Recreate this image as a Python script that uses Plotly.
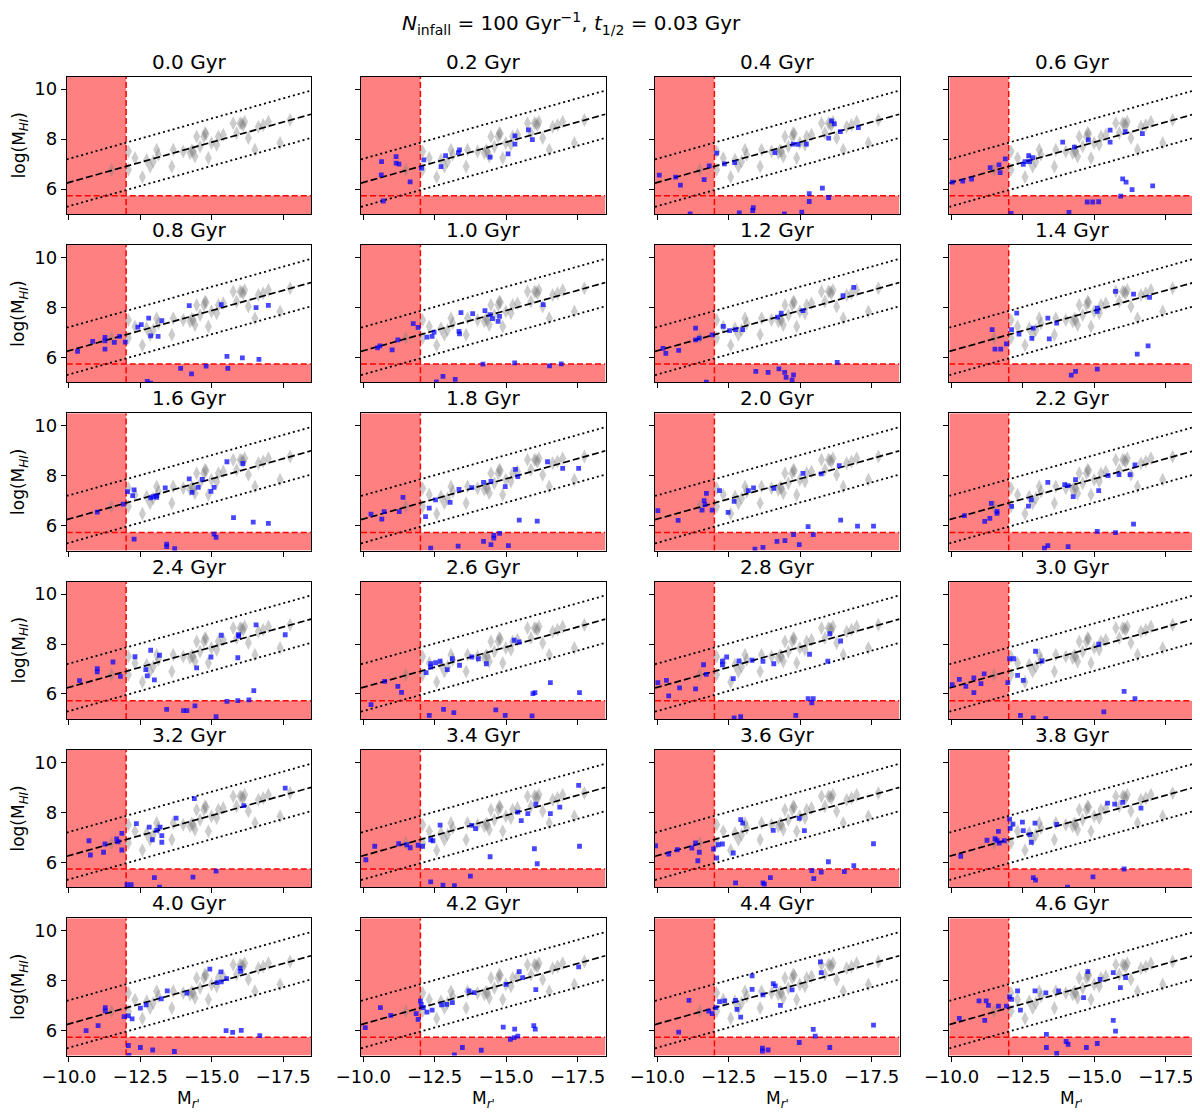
import plotly.graph_objects as go

# ---------------- data ----------------
panel_times = [0.0, 0.2, 0.4, 0.6, 0.8, 1.0, 1.2, 1.4, 1.6, 1.8, 2.0, 2.2,
               2.4, 2.6, 2.8, 3.0, 3.2, 3.4, 3.6, 3.8, 4.0, 4.2, 4.4, 4.6]

# reference sample (grey diamonds, same in every panel)
ref_m = [-11.49, -12.08, -12.08, -12.31, -12.57, -12.72, -12.84, -12.95, -13.07, -13.13,
         -13.60, -13.65, -14.00, -14.24, -14.35, -14.41, -14.47, -14.59, -14.76, -14.80,
         -14.88, -14.99, -15.17, -15.23, -15.40, -15.75, -15.87, -15.99, -16.10, -16.15,
         -16.28, -16.51, -16.63, -16.80, -16.98, -17.39, -17.74, -14.72, -16.05, -14.30]
ref_h = [6.77, 7.50, 6.77, 7.24, 6.48, 7.17, 6.90, 7.10, 7.57, 7.37,
         6.90, 7.57, 7.50, 7.44, 7.50, 7.30, 8.10, 7.70, 8.24, 8.20,
         7.24, 7.84, 7.77, 8.10, 8.17, 8.64, 8.24, 8.64, 8.57, 8.70,
         8.04, 7.57, 8.50, 8.57, 8.70, 7.84, 8.77, 8.10, 8.62, 7.55]

# scaling relation log(M_HI) = fit_a + fit_b * M_r', with +/- scatter
fit_a = 3.04
fit_b = -0.3224
fit_scatter = 0.95

# cuts
mag_cut = -12.0
hi_cut = 5.73

# simulated galaxies (blue squares) per snapshot
m_0_0, h_0_0 = [], []
m_0_2 = [-10.64, -10.63, -11.15, -11.15, -11.25, -11.64, -10.70, -12.04, -12.12, -12.72,
         -12.88, -13.33, -13.37, -14.44, -15.07, -15.31, -15.31, -15.78, -15.92]
h_0_2 = [7.10, 6.57, 7.30, 7.04, 7.00, 6.29, 5.52, 6.84, 7.17, 6.90,
         7.34, 7.46, 7.57, 7.28, 7.41, 8.13, 7.80, 8.37, 7.98]
m_0_4 = [-10.07, -10.64, -10.81, -11.64, -11.82, -12.08, -12.35, -12.71, -14.12, -14.76,
         -14.93, -15.22, -16.00, -16.10, -16.20, -16.41, -17.04, -15.78, -15.32, -16.00,
         -15.32, -13.36, -13.34, -12.87, -11.15, -14.45, -15.06]
h_0_4 = [6.56, 6.48, 6.16, 6.38, 6.93, 7.44, 7.01, 7.06, 7.46, 7.80,
         7.79, 7.80, 8.04, 8.73, 8.61, 8.30, 8.46, 6.04, 5.82, 5.66,
         5.50, 5.25, 5.14, 5.04, 5.00, 5.00, 5.07]
m_0_6 = [-10.03, -10.39, -10.70, -11.35, -11.66, -11.70, -11.88, -12.08, -12.51, -12.57,
         -12.70, -12.73, -12.84, -13.89, -14.30, -14.79, -15.55, -15.55, -16.08, -16.68,
         -15.99, -16.11, -16.32, -17.04, -15.92, -14.75, -14.94, -15.15, -14.11]
h_0_6 = [6.28, 6.32, 6.40, 6.86, 6.97, 6.66, 7.21, 5.02, 6.99, 7.10,
         7.34, 7.10, 7.26, 7.88, 7.68, 7.97, 8.36, 7.88, 8.30, 8.22,
         6.41, 6.28, 5.98, 6.13, 5.72, 5.48, 5.48, 5.49, 5.06]
m_0_8 = [-10.30, -10.83, -11.26, -11.26, -11.26, -11.59, -11.77, -11.97, -12.41, -12.53,
         -12.79, -12.86, -13.12, -13.25, -14.21, -15.33, -16.55, -16.98, -15.53, -16.07,
         -16.65, -13.91, -14.29, -14.80, -15.56, -12.74, -12.86]
h_0_8 = [6.24, 6.64, 6.80, 6.66, 6.33, 6.60, 6.84, 6.61, 7.21, 7.31,
         7.57, 6.86, 6.84, 7.47, 8.07, 8.11, 7.99, 8.08, 6.04, 5.98,
         5.92, 5.56, 5.34, 5.65, 5.56, 5.04, 4.97]
m_1_0 = [-10.50, -10.58, -11.01, -11.21, -11.75, -11.92, -12.23, -12.41, -12.48, -13.35,
         -13.37, -13.42, -13.83, -14.26, -14.44, -14.52, -14.72, -14.77, -16.30, -14.19,
         -15.30, -16.52, -16.93, -12.79, -13.22, -12.56]
h_1_0 = [6.38, 6.46, 6.30, 6.70, 7.35, 7.20, 6.81, 6.84, 7.01, 7.04,
         6.94, 7.79, 7.75, 7.87, 7.71, 7.55, 7.44, 7.64, 8.11, 5.73,
         5.78, 5.66, 5.74, 5.24, 5.12, 5.02]
m_1_2 = [-10.20, -10.30, -10.75, -11.34, -11.34, -11.47, -11.92, -11.72, -12.31, -12.53,
         -12.74, -12.99, -14.21, -14.34, -15.10, -16.50, -16.88, -16.30, -13.45, -13.88,
         -14.26, -14.46, -14.51, -14.77, -14.72]
h_1_2 = [6.36, 6.16, 6.28, 7.17, 6.70, 6.77, 6.90, 5.01, 7.24, 7.07,
         7.11, 7.11, 7.61, 7.77, 7.87, 8.47, 8.80, 5.80, 5.44, 5.40,
         5.54, 5.40, 5.20, 5.30, 5.10]
m_1_4 = [-11.42, -11.52, -11.72, -11.92, -12.10, -12.28, -12.36, -12.86, -12.81, -13.37,
         -13.42, -13.68, -15.10, -15.10, -15.74, -16.37, -16.93, -16.50, -16.88, -15.10,
         -14.34, -14.19]
h_1_4 = [7.11, 6.33, 6.33, 6.54, 7.11, 7.77, 6.93, 7.17, 6.76, 7.57,
         6.74, 7.37, 7.97, 7.84, 8.64, 8.53, 8.40, 6.13, 6.46, 5.53,
         5.44, 5.29]
m_1_6 = [-10.99, -11.90, -12.05, -12.28, -12.23, -12.86, -12.94, -13.07, -13.07, -13.37,
         -14.21, -14.31, -14.52, -14.67, -14.97, -15.08, -15.53, -16.09, -15.76, -16.45,
         -16.98, -15.08, -15.15, -12.28, -13.42, -13.42, -13.70]
h_1_6 = [6.54, 6.86, 7.36, 7.43, 7.20, 7.11, 7.16, 7.13, 7.20, 7.51,
         7.87, 7.33, 7.53, 7.85, 7.37, 7.53, 8.56, 8.49, 6.32, 6.14,
         6.09, 5.66, 5.53, 5.46, 5.26, 5.16, 5.08]
m_1_8 = [-10.27, -10.65, -10.73, -11.26, -11.39, -12.18, -12.31, -12.53, -13.04, -13.35,
         -13.80, -14.21, -14.47, -14.97, -15.33, -15.41, -16.45, -16.98, -17.54, -15.46,
         -16.09, -14.57, -14.57, -14.77, -14.47, -15.08, -13.32, -12.36, -14.21]
h_1_8 = [6.46, 6.26, 6.56, 6.56, 7.13, 6.36, 6.70, 7.03, 6.93, 7.45,
         7.52, 7.73, 7.77, 7.56, 8.25, 7.96, 8.56, 8.29, 8.29, 6.22,
         6.18, 5.61, 5.50, 5.69, 5.24, 5.20, 5.18, 5.10, 5.37]
m_2_0 = [-10.02, -10.73, -11.64, -11.72, -11.67, -11.57, -11.92, -12.18, -12.48, -12.69,
         -13.19, -13.37, -14.08, -15.10, -15.74, -16.37, -16.42, -17.01, -17.57, -15.28,
         -15.46, -14.77, -14.47, -14.19, -14.97, -13.70, -13.42]
h_2_0 = [6.60, 6.21, 7.00, 7.29, 6.84, 6.62, 6.62, 7.40, 6.53, 6.97,
         7.40, 7.51, 7.49, 8.09, 8.07, 8.40, 6.22, 5.98, 5.98, 5.96,
         5.64, 5.64, 5.40, 5.37, 5.24, 5.13, 5.06]
m_2_2 = [-10.45, -11.16, -11.34, -11.39, -11.59, -11.59, -12.10, -12.69, -12.79, -13.37,
         -13.96, -14.08, -14.26, -14.34, -15.15, -15.48, -15.86, -16.25, -16.42, -16.37,
         -15.10, -15.74, -13.37, -13.25, -14.08]
h_2_2 = [6.40, 6.17, 6.29, 6.89, 6.57, 6.49, 6.77, 6.78, 7.03, 7.73,
         7.64, 7.60, 7.16, 7.84, 7.40, 8.00, 8.04, 8.04, 8.43, 6.06,
         5.77, 5.72, 5.20, 5.10, 5.16]
m_2_4 = [-10.37, -10.99, -10.99, -11.54, -11.80, -12.31, -12.69, -12.74, -12.86, -12.99,
         -13.17, -14.47, -14.97, -15.33, -15.94, -15.94, -16.55, -15.91, -17.57, -16.47,
         -16.30, -15.91, -15.53, -14.41, -14.01, -14.13, -13.42, -15.15]
h_2_4 = [6.53, 7.01, 6.88, 7.28, 6.70, 7.49, 6.97, 6.72, 7.75, 6.56,
         7.55, 7.04, 7.48, 8.35, 8.32, 8.37, 8.77, 7.45, 8.37, 6.13,
         5.76, 5.73, 5.70, 5.52, 5.33, 5.33, 5.38, 5.09]
m_2_6 = [-10.27, -10.75, -11.21, -11.34, -12.20, -12.36, -12.36, -12.53, -12.69, -12.94,
         -13.12, -13.37, -13.80, -14.03, -14.31, -15.28, -15.46, -16.55, -15.94, -16.01,
         -17.57, -12.31, -12.81, -13.17, -14.64, -14.97, -15.91]
h_2_6 = [5.57, 6.50, 6.30, 6.06, 6.85, 7.21, 7.08, 7.25, 7.31, 6.97,
         7.41, 7.15, 7.48, 7.41, 7.21, 8.15, 8.08, 6.45, 6.01, 6.05,
         6.05, 5.14, 5.38, 5.25, 5.36, 5.14, 5.12]
m_2_8 = [-10.02, -10.32, -10.40, -10.78, -11.34, -11.62, -11.72, -12.28, -12.28, -12.43,
         -12.66, -12.86, -13.32, -13.70, -14.08, -15.33, -15.97, -16.04, -16.42, -15.28,
         -15.46, -15.41, -14.85, -12.92, -12.69]
h_2_8 = [6.45, 6.54, 5.92, 6.24, 6.20, 7.17, 6.78, 7.31, 7.17, 7.48,
         6.61, 7.32, 7.35, 7.31, 7.21, 7.59, 7.31, 8.41, 8.12, 5.81,
         5.81, 5.64, 5.14, 5.09, 5.04]
m_3_0 = [-10.02, -10.27, -10.50, -10.78, -10.78, -11.03, -11.14, -11.97, -12.03, -12.18,
         -12.31, -12.51, -12.94, -13.17, -15.15, -16.04, -16.42, -15.33, -12.41, -12.86,
         -13.30]
h_3_0 = [6.37, 6.58, 6.30, 6.05, 6.64, 6.41, 6.80, 6.45, 7.41, 7.41,
         6.74, 6.54, 7.71, 7.32, 7.99, 6.10, 5.81, 5.28, 5.14, 5.04,
         5.01]
m_3_2 = [-10.70, -10.75, -11.21, -11.26, -11.67, -11.72, -11.85, -11.85, -12.36, -12.81,
         -12.92, -13.07, -13.19, -13.25, -13.25, -13.75, -14.39, -16.12, -17.57, -15.15,
         -14.34, -12.99, -12.03, -12.18, -13.17]
h_3_2 = [6.86, 6.29, 6.40, 6.73, 6.93, 6.82, 7.16, 6.49, 7.55, 7.41,
         6.90, 7.28, 7.41, 7.07, 6.80, 7.77, 8.55, 8.27, 8.97, 5.64,
         5.40, 5.38, 5.10, 5.10, 5.00]
m_3_4 = [-10.09, -10.40, -11.24, -11.52, -11.64, -11.92, -12.08, -12.36, -12.44, -12.69,
         -13.80, -13.93, -14.44, -15.41, -15.53, -15.76, -16.04, -16.55, -16.88, -17.54,
         -17.57, -15.99, -16.09, -13.75, -12.36, -12.79, -13.19]
h_3_4 = [6.10, 6.64, 6.74, 6.70, 6.58, 6.68, 6.64, 6.90, 6.86, 7.49,
         7.48, 7.35, 6.22, 8.01, 7.67, 7.95, 8.33, 7.95, 8.21, 9.08,
         6.64, 6.54, 5.94, 5.44, 5.21, 5.08, 5.06]
m_3_6 = [-9.94, -10.40, -10.70, -11.21, -11.34, -11.47, -11.42, -11.97, -12.13, -12.28,
         -12.08, -12.66, -12.92, -12.99, -14.06, -14.97, -15.15, -17.57, -15.99, -16.88,
         -15.41, -15.74, -16.55, -15.48, -13.96, -13.70, -13.75, -12.74]
h_3_6 = [6.66, 6.33, 6.50, 6.57, 6.77, 6.40, 6.06, 6.53, 6.70, 6.73,
         6.17, 6.37, 7.71, 7.57, 7.28, 7.76, 7.27, 6.74, 6.02, 5.86,
         5.66, 5.60, 5.62, 5.34, 5.38, 5.17, 5.12, 5.17]
m_3_8 = [-10.32, -11.24, -11.52, -11.59, -11.64, -11.67, -11.85, -12.03, -12.05, -12.15,
         -12.48, -12.51, -12.74, -12.79, -12.92, -13.68, -15.46, -15.71, -15.99, -16.63,
         -16.04, -14.95, -12.86, -12.94, -14.06]
h_3_8 = [6.24, 6.88, 6.94, 6.88, 7.24, 6.77, 6.86, 7.73, 7.36, 7.53,
         7.61, 7.27, 7.11, 6.80, 7.57, 7.52, 8.37, 8.33, 8.40, 8.17,
         5.73, 5.41, 5.38, 5.28, 5.00]
m_4_0 = [-10.60, -11.02, -11.27, -11.27, -11.93, -12.08, -12.21, -12.08, -12.10, -12.50,
         -12.50, -12.70, -12.93, -13.23, -13.44, -13.69, -14.13, -14.93, -15.18, -15.32,
         -15.33, -15.52, -15.99, -16.01, -15.50, -15.73, -16.03, -16.68]
h_4_0 = [6.00, 6.20, 6.92, 6.79, 6.56, 6.59, 6.47, 5.40, 5.00, 6.90,
         5.32, 7.03, 5.22, 7.27, 7.59, 5.16, 7.50, 8.46, 7.92, 8.35,
         7.95, 8.08, 8.50, 8.37, 6.00, 5.93, 6.01, 5.80]
m_4_2 = [-10.07, -10.60, -10.96, -11.85, -11.92, -12.00, -12.03, -12.10, -12.23, -12.41,
         -12.74, -12.92, -13.12, -13.70, -13.88, -15.00, -15.46, -15.58, -16.04, -17.54,
         -14.90, -15.30, -15.97, -16.02, -15.15, -15.41, -15.28, -13.47, -14.13, -13.19]
h_4_2 = [6.12, 6.92, 6.61, 6.68, 6.45, 7.19, 7.05, 6.92, 6.74, 6.82,
         7.03, 7.05, 7.12, 7.59, 7.52, 7.85, 8.36, 8.12, 7.64, 8.55,
         6.14, 6.06, 6.20, 6.06, 5.65, 5.78, 5.72, 5.32, 5.21, 5.02]
m_4_4 = [-10.75, -11.11, -11.80, -11.92, -12.05, -12.18, -12.36, -12.74, -12.79, -12.92,
         -13.32, -13.32, -13.70, -14.06, -14.13, -14.72, -14.31, -15.71, -15.74, -17.57,
         -15.46, -15.53, -14.97, -16.04, -13.68, -13.68, -13.88]
h_4_4 = [5.94, 7.21, 6.78, 6.68, 6.92, 7.16, 7.19, 7.21, 6.85, 6.54,
         8.19, 7.65, 7.43, 7.88, 7.79, 7.63, 7.01, 8.75, 8.32, 6.22,
         6.05, 5.78, 5.52, 5.32, 5.29, 5.18, 5.22]
m_4_6 = [-10.27, -10.96, -11.21, -11.29, -11.16, -11.64, -11.92, -12.03, -12.10, -12.31,
         -12.41, -12.92, -13.30, -13.75, -14.62, -14.77, -15.20, -15.66, -15.91, -16.09,
         -15.66, -15.74, -13.32, -13.32, -14.01, -14.08, -14.72, -15.10, -13.68]
h_4_6 = [6.49, 7.19, 7.19, 7.01, 6.41, 6.98, 6.98, 7.35, 7.25, 7.59,
         6.82, 7.59, 7.51, 7.59, 7.32, 8.36, 8.05, 8.32, 7.72, 8.12,
         6.41, 5.98, 5.85, 5.32, 5.56, 5.45, 5.32, 5.48, 5.08]

sims = [(m_0_0, h_0_0), (m_0_2, h_0_2), (m_0_4, h_0_4), (m_0_6, h_0_6),
        (m_0_8, h_0_8), (m_1_0, h_1_0), (m_1_2, h_1_2), (m_1_4, h_1_4),
        (m_1_6, h_1_6), (m_1_8, h_1_8), (m_2_0, h_2_0), (m_2_2, h_2_2),
        (m_2_4, h_2_4), (m_2_6, h_2_6), (m_2_8, h_2_8), (m_3_0, h_3_0),
        (m_3_2, h_3_2), (m_3_4, h_3_4), (m_3_6, h_3_6), (m_3_8, h_3_8),
        (m_4_0, h_4_0), (m_4_2, h_4_2), (m_4_4, h_4_4), (m_4_6, h_4_6)]

# ---------------- layout geometry (screen pixels) ----------------
W, H = 1200, 1113
OFF = 8  # the html page body adds an 8px margin, compensate for it
col_left = [66.7, 361.0, 655.0, 949.3]
row_top = [76.7 + r * 168.3 for r in range(6)]
pw, ph = 244.5, 137.3
xr = [-9.92, -18.48]
yr = [5.0, 10.5]


def px(x):
    return (x - OFF) / W


def py(y):
    return 1 - (y - OFF) / H


FONT = "DejaVu Sans"
fig = go.Figure()
shapes = []
annotations = []
layout_axes = {}

line_x = [xr[0], xr[1]]

for i, t in enumerate(panel_times):
    r, c = divmod(i, 4)
    n = "" if i == 0 else str(i + 1)
    xa, ya = "x" + n, "y" + n
    x0 = px(col_left[c])
    x1 = px(col_left[c] + pw)
    y1 = py(row_top[r])
    y0 = py(row_top[r] + ph)

    layout_axes["xaxis" + n] = dict(
        domain=[x0, x1], range=xr, anchor=ya, autorange=False,
        tickvals=[-10, -12.5, -15, -17.5],
        ticktext=["\u221210.0", "\u221212.5", "\u221215.0", "\u221217.5"],
        showticklabels=(r == 5), ticks="outside", ticklen=5, tickwidth=1,
        tickcolor="black", showline=True, linecolor="black", linewidth=1,
        mirror=True, showgrid=False, zeroline=False,
        tickfont=dict(size=18, color="black", family=FONT),
    )
    layout_axes["yaxis" + n] = dict(
        domain=[y0, y1], range=yr, anchor=xa, autorange=False,
        tickvals=[6, 8, 10], ticktext=["6", "8", "10"],
        showticklabels=(c == 0), ticks="outside", ticklen=5, tickwidth=1,
        tickcolor="black", showline=True, linecolor="black", linewidth=1,
        mirror=True, showgrid=False, zeroline=False,
        tickfont=dict(size=18, color="black", family=FONT),
    )

    # red excluded regions
    shapes.append(dict(type="rect", xref=xa, yref=ya, x0=xr[0], x1=mag_cut,
                       y0=yr[0], y1=yr[1], fillcolor="#ff8080",
                       line=dict(width=0), layer="below"))
    shapes.append(dict(type="rect", xref=xa, yref=ya, x0=xr[0], x1=xr[1],
                       y0=yr[0], y1=hi_cut, fillcolor="#ff8080",
                       line=dict(width=0), layer="below"))
    shapes.append(dict(type="line", xref=xa, yref=ya, x0=mag_cut, x1=mag_cut,
                       y0=yr[0], y1=yr[1],
                       line=dict(color="red", width=1.5, dash="6px,3px"),
                       layer="below"))
    shapes.append(dict(type="line", xref=xa, yref=ya, x0=xr[0], x1=xr[1],
                       y0=hi_cut, y1=hi_cut,
                       line=dict(color="red", width=1.5, dash="6px,3px"),
                       layer="below"))

    # reference sample
    fig.add_trace(go.Scatter(
        x=ref_m, y=ref_h, mode="markers", xaxis=xa, yaxis=ya, showlegend=False,
        marker=dict(symbol="diamond-tall", size=10, color="rgba(128,128,128,0.4)",
                    line=dict(width=0)),
    ))

    # scaling relation + scatter
    fit_y = [fit_a + fit_b * v for v in line_x]
    fig.add_trace(go.Scatter(
        x=line_x, y=fit_y, mode="lines", xaxis=xa, yaxis=ya, showlegend=False,
        line=dict(color="black", width=1.7, dash="7px,3px"),
    ))
    for s in (fit_scatter, -fit_scatter):
        fig.add_trace(go.Scatter(
            x=line_x, y=[v + s for v in fit_y], mode="lines", xaxis=xa, yaxis=ya,
            showlegend=False, line=dict(color="black", width=1.8, dash="2px,3px"),
        ))

    # simulated galaxies
    sm, sh = sims[i]
    fig.add_trace(go.Scatter(
        x=sm, y=sh, mode="markers", xaxis=xa, yaxis=ya, showlegend=False,
        marker=dict(symbol="square", size=4.8, color="rgba(0,0,255,0.72)",
                    line=dict(width=0)),
    ))

    # panel title
    annotations.append(dict(
        text=f"{t:.1f} Gyr", x=(x0 + x1) / 2, y=py(row_top[r] - 1),
        xref="paper", yref="paper", xanchor="center", yanchor="bottom",
        showarrow=False, font=dict(size=20, color="black", family=FONT),
    ))

    if c == 0:
        annotations.append(dict(
            text="log(M<sub><i>HI</i></sub>)", x=px(20),
            y=py(row_top[r] + ph / 2), xref="paper", yref="paper",
            xanchor="center", yanchor="middle", textangle=-90, showarrow=False,
            font=dict(size=17, color="black", family=FONT),
        ))
    if r == 5:
        annotations.append(dict(
            text="M<sub><i>r'</i></sub>", x=(x0 + x1) / 2, y=py(1099),
            xref="paper", yref="paper", xanchor="center", yanchor="middle",
            showarrow=False, font=dict(size=17, color="black", family=FONT),
        ))

annotations.append(dict(
    text="<i>N</i><sub>infall</sub> = 100 Gyr<sup>\u22121</sup>, "
         "<i>t</i><sub>1/2</sub> = 0.03 Gyr",
    x=px(571), y=1.0, xref="paper", yref="paper", borderpad=0,
    xanchor="center", yanchor="top", showarrow=False,
    font=dict(size=20, color="black", family=FONT),
))

fig.update_layout(
    width=W, height=H,
    margin=dict(l=0, r=0, t=0, b=0, autoexpand=False),
    paper_bgcolor="white", plot_bgcolor="white",
    font=dict(family=FONT, color="black"),
    shapes=shapes, annotations=annotations,
    **layout_axes,
)

fig.write_html("out.html")
